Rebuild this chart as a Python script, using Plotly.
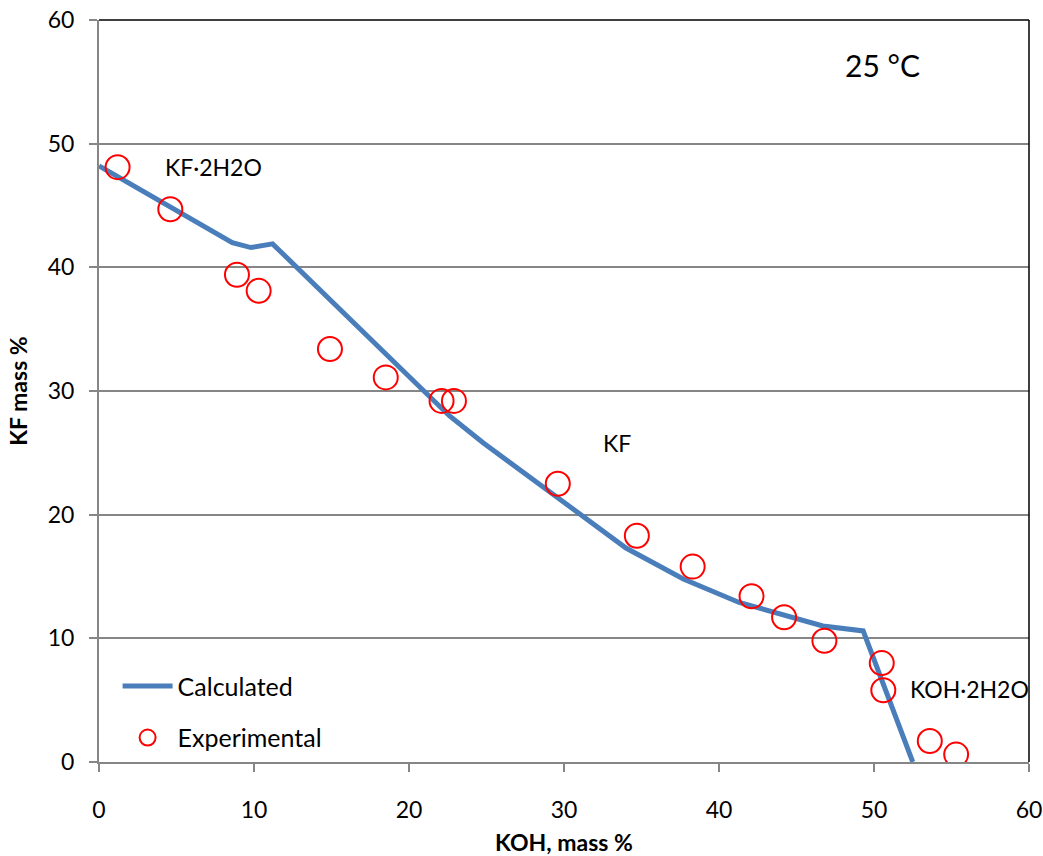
import plotly.graph_objects as go

# Solubility isotherm KOH–KF–H2O at 25 °C
calc_koh = [0, 8.6, 9.8, 11.2, 22.6, 24.8, 34.0, 37.7, 41.3, 46.7, 49.3, 52.5]
calc_kf = [48.2, 42.0, 41.6, 41.9, 28.0, 25.8, 17.3, 14.8, 12.9, 11.0, 10.6, 0.0]

exp_koh = [1.2, 4.6, 8.9, 10.3, 14.9, 18.5, 22.1, 22.9, 29.6, 34.7, 38.3,
           42.1, 44.2, 46.8, 50.5, 50.6, 53.6, 55.3]
exp_kf = [48.1, 44.7, 39.4, 38.1, 33.4, 31.1, 29.2, 29.2, 22.5, 18.3, 15.8,
          13.4, 11.7, 9.8, 8.0, 5.8, 1.7, 0.6]

phase_labels = ["KF·2H2O", "KF", "KOH·2H2O"]
phase_x = [4.1, 32.4, 52.2]
phase_y = [48.1, 25.8, 5.9]

FONT = "Lato, 'Open Sans', sans-serif"
AXIS_GRAY = "#868686"

fig = go.Figure()
fig.add_trace(go.Scatter(
    x=calc_koh, y=calc_kf, mode="lines", name="Calculated",
    line=dict(color="#4a7ebb", width=5),
    legendgroup="a",
))
fig.add_trace(go.Scatter(
    x=exp_koh, y=exp_kf, mode="markers", name="Experimental",
    marker=dict(symbol="circle-open", size=24, color="#ff0000",
                line=dict(color="#ff0000", width=2)),
    legendgroup="b",
))

for txt, x, y in zip(phase_labels, phase_x, phase_y):
    fig.add_annotation(x=x, y=y, text=txt, showarrow=False, xanchor="left",
                       font=dict(family=FONT, size=23, color="black"))

fig.add_annotation(x=0.842, y=0.966, xref="paper", yref="paper", text="25 °C",
                   showarrow=False, xanchor="center",
                   font=dict(family=FONT, size=30, color="black"))

# black frame on the top and right sides of the plotting area
fig.add_shape(type="line", xref="paper", yref="paper", x0=0, x1=1, y0=1, y1=1,
              line=dict(color="black", width=1.5))
fig.add_shape(type="line", xref="paper", yref="paper", x0=1, x1=1, y0=0, y1=1,
              line=dict(color="black", width=1.5))

fig.update_layout(
    width=1043, height=856,
    margin=dict(l=99, r=14, t=20, b=94),
    paper_bgcolor="white", plot_bgcolor="white",
    font=dict(family=FONT, size=23, color="black"),
    showlegend=True,
    legend=dict(x=0.02, y=0.133, xanchor="left", yanchor="top",
                bgcolor="rgba(0,0,0,0)", traceorder="grouped",
                tracegroupgap=16, itemwidth=50, font=dict(size=25)),
    xaxis=dict(
        range=[0, 60], dtick=10, showgrid=False, zeroline=False,
        showline=True, linecolor=AXIS_GRAY, linewidth=2,
        ticks="outside", ticklen=8, tickcolor=AXIS_GRAY, tickwidth=1.5,
        ticklabelstandoff=18, automargin=False,
        title=dict(text="<b>KOH, mass %</b>", standoff=22,
                   font=dict(size=23)),
    ),
    yaxis=dict(
        range=[0, 60], dtick=10, showgrid=True, gridcolor=AXIS_GRAY,
        gridwidth=1.5, zeroline=False,
        showline=True, linecolor=AXIS_GRAY, linewidth=2,
        ticks="outside", ticklen=8, tickcolor=AXIS_GRAY, tickwidth=1.5,
        ticklabelstandoff=10, automargin=False,
        title=dict(text="<b>KF mass %</b>", standoff=14,
                   font=dict(size=23)),
    ),
)

fig.write_html("out.html")
